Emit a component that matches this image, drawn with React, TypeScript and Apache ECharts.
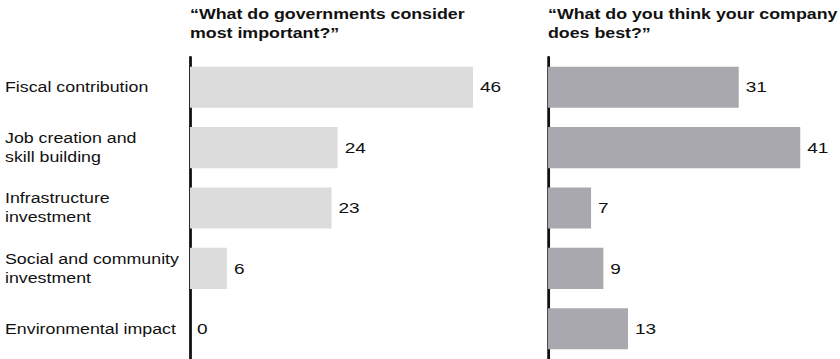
import React, { useEffect, useRef } from "react";
import * as echarts from "echarts";

const categories = [
  "Fiscal contribution",
  "Job creation and\nskill building",
  "Infrastructure\ninvestment",
  "Social and community\ninvestment",
  "Environmental impact",
];
const governmentValues = [46, 24, 23, 6, 0];
const companyValues = [31, 41, 7, 9, 13];
const leftTitle = "“What do governments consider\nmost important?”";
const rightTitle = "“What do you think your company\ndoes best?”";

// the reference's lettering is horizontally stretched; render narrower and stretch
const STRETCH = 1.27;
const W = 840 / STRETCH;
const sx = (x: number) => x / STRETCH;

export default function App() {
  const ref = useRef<HTMLDivElement>(null);
  useEffect(() => {
    document.body.style.margin = "0";
    const chart = echarts.init(ref.current!, null, { renderer: "svg" });
    const font = "'Liberation Sans', Arial, sans-serif";
    const labelStyle = {
      show: true,
      position: "right" as const,
      distance: 5.5,
      fontSize: 15,
      color: "#111",
      fontFamily: font,
    };
    const titleStyle = {
      fontSize: 14,
      fontWeight: "bold" as const,
      color: "#111",
      lineHeight: 18.5,
      fontFamily: font,
    };
    chart.setOption({
      animation: false,
      backgroundColor: "#ffffff",
      textStyle: { fontFamily: font },
      title: [
        { text: leftTitle, left: sx(190), top: 5, padding: 0, textStyle: titleStyle },
        { text: rightTitle, left: sx(548), top: 5, padding: 0, textStyle: titleStyle },
      ],
      grid: [
        { left: sx(190), top: 57, width: sx(283), height: 302 },
        { left: sx(548), top: 57, width: sx(283), height: 302 },
      ],
      xAxis: [
        { type: "value", gridIndex: 0, min: 0, max: 46, show: false },
        { type: "value", gridIndex: 1, min: 0, max: 46, show: false },
      ],
      yAxis: [
        {
          type: "category",
          gridIndex: 0,
          data: categories,
          inverse: true,
          axisLine: { show: true, lineStyle: { color: "#111", width: 2.2 } },
          axisTick: { show: false },
          axisLabel: {
            show: true,
            align: "left",
            margin: sx(190 - 5),
            fontSize: 14,
            lineHeight: 19,
            color: "#111",
            fontFamily: font,
          },
        },
        {
          type: "category",
          gridIndex: 1,
          data: categories,
          inverse: true,
          axisLine: { show: true, lineStyle: { color: "#111", width: 2.2 } },
          axisTick: { show: false },
          axisLabel: { show: false },
        },
      ],
      series: [
        {
          type: "bar",
          xAxisIndex: 0,
          yAxisIndex: 0,
          data: governmentValues,
          barCategoryGap: "32%",
          itemStyle: { color: "#dcdcdd" },
          label: labelStyle,
        },
        {
          type: "bar",
          xAxisIndex: 1,
          yAxisIndex: 1,
          data: companyValues,
          barCategoryGap: "32%",
          itemStyle: { color: "#a9a8ae" },
          label: labelStyle,
        },
      ],
    });
    return () => chart.dispose();
  }, []);
  return (
    <div
      ref={ref}
      style={{
        position: "absolute",
        left: 0,
        top: 0,
        width: W,
        height: 359,
        transform: `scaleX(${STRETCH})`,
        transformOrigin: "0 0",
      }}
    />
  );
}
